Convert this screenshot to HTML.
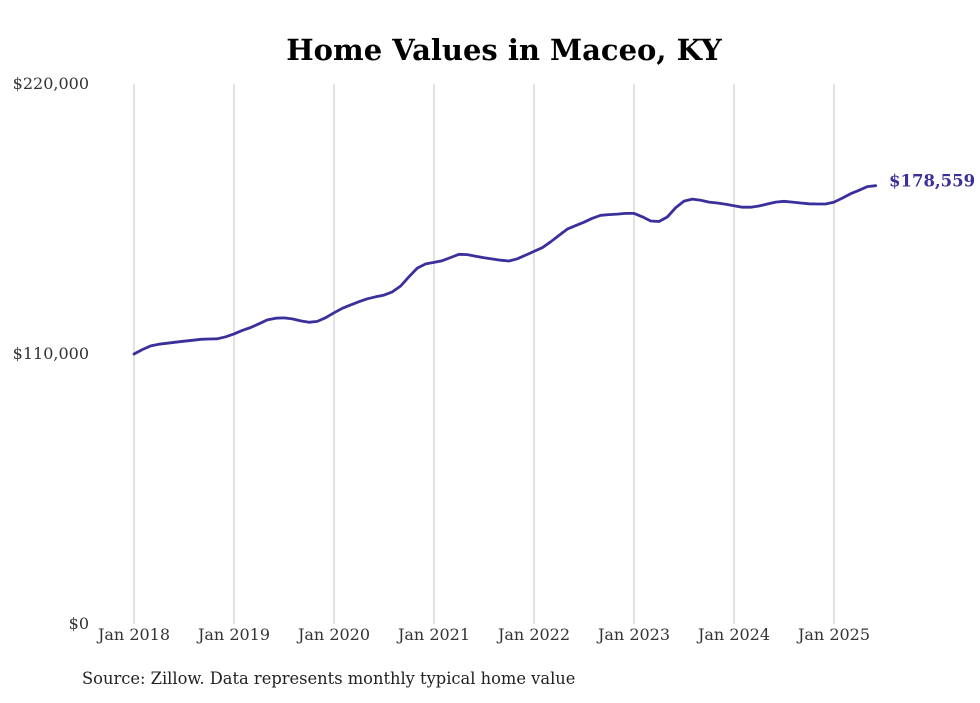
<!DOCTYPE html>
<html><head><meta charset="utf-8"><style>
body{margin:0;background:#fff;font-family:"DejaVu Serif","Liberation Serif",serif;}
svg text{font-family:"DejaVu Serif","Liberation Serif",serif;}
</style></head><body>
<svg id="chart" width="980" height="699">
<text x="504" y="60" text-anchor="middle" font-size="29" font-weight="bold" fill="#000">Home Values in Maceo, KY</text>
<g id="grid"></g><g id="yticks"></g><g id="xticks"></g><g id="series"></g>
<text x="82" y="684" font-size="16.3" fill="#222">Source: Zillow. Data represents monthly typical home value</text>
</svg>
<script>
const yTicks=[0,110000,220000];
const yTickLabels=["$0","$110,000","$220,000"];
const xYears=[2018,2019,2020,2021,2022,2023,2024,2025];
const xTickLabels=["Jan 2018","Jan 2019","Jan 2020","Jan 2021","Jan 2022","Jan 2023","Jan 2024","Jan 2025"];
const values=[110000,111800,113300,114000,114400,114800,115200,115600,116000,116100,116200,117000,
118200,119600,120800,122300,123900,124600,124700,124300,123500,122900,123300,124800,
126800,128600,130000,131300,132500,133300,134000,135300,137700,141500,145000,146700,
147300,148000,149300,150600,150500,149800,149200,148700,148200,147900,148800,150300,
151800,153300,155700,158300,160900,162300,163700,165300,166500,166800,167000,167300,
167300,165900,164200,164000,165800,169600,172300,173100,172600,171900,171500,171000,
170400,169800,169800,170300,171100,171900,172200,171900,171500,171200,171100,171100,
171900,173500,175300,176700,178200,178559];
const lastLabel="$178,559";
const NS="http://www.w3.org/2000/svg";
const y=v=>624-v/220000*540;
const x=m=>134+m*100/12;
function mk(t,a,p){const e=document.createElementNS(NS,t);for(const k in a)e.setAttribute(k,a[k]);p.appendChild(e);return e;}
const grid=document.getElementById('grid'),yt=document.getElementById('yticks'),xt=document.getElementById('xticks'),sr=document.getElementById('series');
xYears.forEach((yr,i)=>{
 const gx=x((yr-2018)*12);
 const l=mk('line',{x1:gx,x2:gx,y1:84,y2:624,stroke:'#c4c4c4','stroke-width':1},grid);
 
 
 const t=mk('text',{x:gx,y:640,'text-anchor':'middle','font-size':16,fill:'#333'},xt);
 t.textContent=xTickLabels[i];
 
 
});
yTicks.forEach((v,i)=>{
 const t=mk('text',{x:89,y:y(v)+5,'text-anchor':'end','font-size':16,fill:'#333'},yt);
 t.textContent=yTickLabels[i];
 
 
});
const d=values.map((v,i)=>(i?'L':'M')+x(i).toFixed(1)+' '+y(v).toFixed(1)).join(' ');
const p=mk('path',{d:d,fill:'none',stroke:'#3b2f9b','stroke-width':2.8,'stroke-linejoin':'round','stroke-linecap':'round'},sr);


const li=values.length-1;
const lt=mk('text',{x:889,y:y(values[li])+1,'font-size':16.5,'font-weight':'bold',fill:'#3b2f9b'},sr);
lt.textContent=lastLabel;


</script>
</body></html>
